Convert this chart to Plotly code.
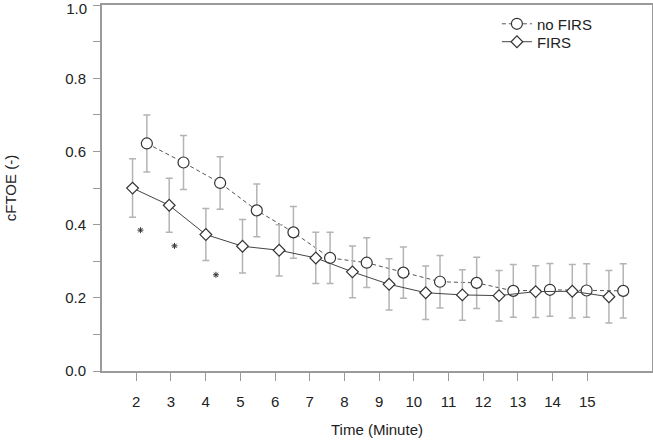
import plotly.graph_objects as go

minutes = [2, 3, 4, 5, 6, 7, 8, 9, 10, 11, 12, 13, 14, 15]
no_firs_mean = [0.622, 0.570, 0.514, 0.439, 0.379, 0.309, 0.296, 0.269, 0.244, 0.241, 0.219, 0.222, 0.220, 0.219]
no_firs_sd = [0.078, 0.074, 0.072, 0.072, 0.071, 0.070, 0.068, 0.070, 0.072, 0.070, 0.072, 0.072, 0.073, 0.074]
firs_mean = [0.500, 0.453, 0.373, 0.341, 0.330, 0.309, 0.271, 0.237, 0.214, 0.208, 0.206, 0.217, 0.218, 0.203]
firs_sd = [0.080, 0.074, 0.071, 0.073, 0.070, 0.070, 0.071, 0.070, 0.073, 0.069, 0.069, 0.071, 0.073, 0.072]
sig_x = [2.02, 2.95, 4.08]
sig_y = [0.385, 0.342, 0.263]
y_ticks = [0.0, 0.2, 0.4, 0.6, 0.8]
y_top_tick = [1.0]

offset = 0.195
x_no = [m + offset for m in minutes]
x_fi = [m - offset for m in minutes]

FONT = "Liberation Sans, Arial, sans-serif"
GRAY = "#9a9a9a"
ERR = "#b4b4b4"

fig = go.Figure()
fig.add_trace(go.Scatter(
    x=x_no, y=no_firs_mean, name="no FIRS", mode="lines+markers", legend="legend",
    line=dict(color="#555555", width=1, dash="4px,3px"),
    marker=dict(symbol="circle", size=11, color="white", line=dict(color="#333333", width=1.2)),
    error_y=dict(type="data", array=no_firs_sd, color=ERR, thickness=1.5, width=3.5),
))
fig.add_trace(go.Scatter(
    x=x_fi, y=firs_mean, name="FIRS", mode="lines+markers", legend="legend2",
    line=dict(color="#444444", width=1),
    marker=dict(symbol="diamond", size=9, color="white", line=dict(color="#333333", width=1.2)),
    error_y=dict(type="data", array=firs_sd, color=ERR, thickness=1.5, width=3.5),
))
fig.add_trace(go.Scatter(
    x=sig_x, y=sig_y, mode="markers",
    marker=dict(symbol="asterisk-open", size=5, color="#333333", line=dict(color="#333333", width=1)),
    showlegend=False, hoverinfo="skip",
))
# invisible traces to activate the helper axes
fig.add_trace(go.Scatter(x=minutes, y=[None] * len(minutes), xaxis="x2", showlegend=False, hoverinfo="skip"))
fig.add_trace(go.Scatter(x=minutes, y=[None] * len(minutes), yaxis="y2", showlegend=False, hoverinfo="skip"))

leg_common = dict(xanchor="left", yanchor="middle", bgcolor="rgba(0,0,0,0)",
                  font=dict(size=15, color="#222222"), itemwidth=30, borderwidth=0)

fig.update_layout(
    width=653, height=442,
    margin=dict(l=102, r=1, t=5, b=71, autoexpand=False),
    plot_bgcolor="white", paper_bgcolor="white",
    font=dict(family=FONT, size=15, color="#222222"),
    showlegend=True,
    legend=dict(x=0.718, y=0.948, **leg_common),
    legend2=dict(x=0.718, y=0.899, **leg_common),
    xaxis=dict(range=[0.971, 15.98], showticklabels=False, ticks="", automargin=False,
               showline=True, linecolor=GRAY, linewidth=2, mirror=True,
               showgrid=False, zeroline=False),
    xaxis2=dict(overlaying="x", anchor="y", side="bottom", range=[1.012, 16.865],
                tickmode="array", tickvals=minutes, ticktext=[str(m) for m in minutes],
                ticks="outside", ticklen=9, tickcolor=GRAY, tickwidth=1, automargin=False,
                ticklabelstandoff=8, showline=False, showgrid=False, zeroline=False,
                title=dict(text="Time (Minute)", font=dict(size=15), standoff=15)),
    yaxis=dict(range=[0, 1.0005], tickvals=y_ticks, tickformat=".1f", automargin=False,
               ticks="outside", ticklen=7, tickcolor=GRAY, tickwidth=1,
               minor=dict(dtick=0.1, ticks="outside", ticklen=7, tickcolor=GRAY),
               showline=True, linecolor=GRAY, linewidth=2, mirror=True,
               showgrid=False, zeroline=False, ticklabelstandoff=4,
               title=dict(text="cFTOE (-)", font=dict(size=15), standoff=45)),
    yaxis2=dict(overlaying="y", anchor="x", side="left", range=[0, 1.0005],
                tickvals=y_top_tick, tickformat=".1f", automargin=False,
                ticks="outside", ticklen=7, tickcolor=GRAY, tickwidth=1,
                ticklabelshift=4, ticklabelstandoff=4, ticklabeloverflow="allow",
                showline=False, showgrid=False, zeroline=False),
)

fig.write_html("out.html", config={"displayModeBar": False},
               post_script="document.body.style.margin='0';document.body.style.overflow='hidden';")
